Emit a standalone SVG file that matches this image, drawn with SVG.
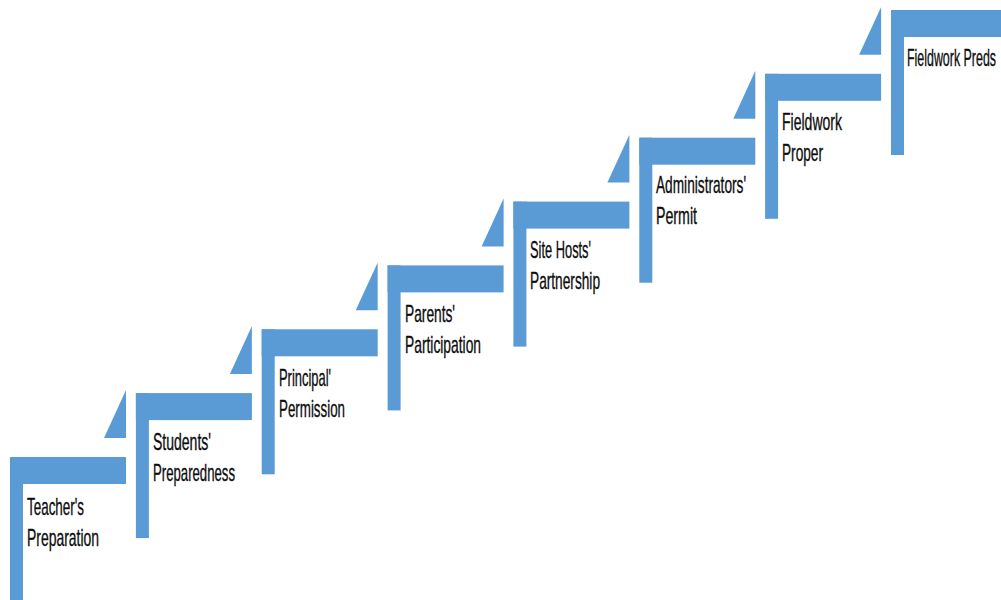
<svg xmlns="http://www.w3.org/2000/svg" width="1001" height="600" viewBox="0 0 1001 600">
<style>
.b{fill:#5B9BD5}
.t{font-family:"Liberation Sans",Arial,sans-serif;font-size:24px;fill:#0d0d0d;stroke:#0d0d0d;stroke-width:0.35}
</style>
<defs>
<g id="step">
<rect class="b" x="0" y="0" width="116" height="27"/>
<rect class="b" x="0" y="0" width="13" height="145"/>
</g>
</defs>
<rect width="1001" height="600" fill="#fff"/>
<g id="connectors">
<polygon class="b" points="126,390 126,438 104,438"/>
<polygon class="b" points="251.9,326.1 251.9,374.1 229.9,374.1"/>
<polygon class="b" points="377.7,262.4 377.7,310.3 355.7,310.3"/>
<polygon class="b" points="503.6,198.6 503.6,246.4 481.6,246.4"/>
<polygon class="b" points="629.4,134.7 629.4,182.6 607.4,182.6"/>
<polygon class="b" points="755.3,70.8 755.3,118.7 733.3,118.7"/>
<polygon class="b" points="881.1,7 881.1,54.8 859.1,54.8"/>
</g>
<g id="n1"><use href="#step" x="10" y="457"/>
<text class="t" x="27" y="515" textLength="57" lengthAdjust="spacingAndGlyphs">Teacher's</text>
<text class="t" x="27" y="546" textLength="72" lengthAdjust="spacingAndGlyphs">Preparation</text></g>
<g id="n2"><use href="#step" x="135.9" y="393.1"/>
<text class="t" x="153" y="450" textLength="58" lengthAdjust="spacingAndGlyphs">Students'</text>
<text class="t" x="153" y="481" textLength="82" lengthAdjust="spacingAndGlyphs">Preparedness</text></g>
<g id="n3"><use href="#step" x="261.7" y="329.3"/>
<text class="t" x="279" y="386" textLength="52" lengthAdjust="spacingAndGlyphs">Principal'</text>
<text class="t" x="279" y="417" textLength="66" lengthAdjust="spacingAndGlyphs">Permission</text></g>
<g id="n4"><use href="#step" x="387.6" y="265.4"/>
<text class="t" x="405" y="322" textLength="50" lengthAdjust="spacingAndGlyphs">Parents'</text>
<text class="t" x="405" y="353" textLength="76" lengthAdjust="spacingAndGlyphs">Participation</text></g>
<g id="n5"><use href="#step" x="513.4" y="201.6"/>
<text class="t" x="530" y="258" textLength="61" lengthAdjust="spacingAndGlyphs">Site Hosts'</text>
<text class="t" x="530" y="289" textLength="70" lengthAdjust="spacingAndGlyphs">Partnership</text></g>
<g id="n6"><use href="#step" x="639.3" y="137.7"/>
<text class="t" x="656" y="193" textLength="90" lengthAdjust="spacingAndGlyphs">Administrators'</text>
<text class="t" x="656" y="224" textLength="41" lengthAdjust="spacingAndGlyphs">Permit</text></g>
<g id="n7"><use href="#step" x="765.1" y="73.8"/>
<text class="t" x="782" y="130" textLength="60" lengthAdjust="spacingAndGlyphs">Fieldwork</text>
<text class="t" x="782" y="161" textLength="41" lengthAdjust="spacingAndGlyphs">Proper</text></g>
<g id="n8"><use href="#step" x="891" y="10"/>
<text class="t" x="907" y="66" textLength="89" lengthAdjust="spacingAndGlyphs">Fieldwork Preds</text></g>
</svg>
